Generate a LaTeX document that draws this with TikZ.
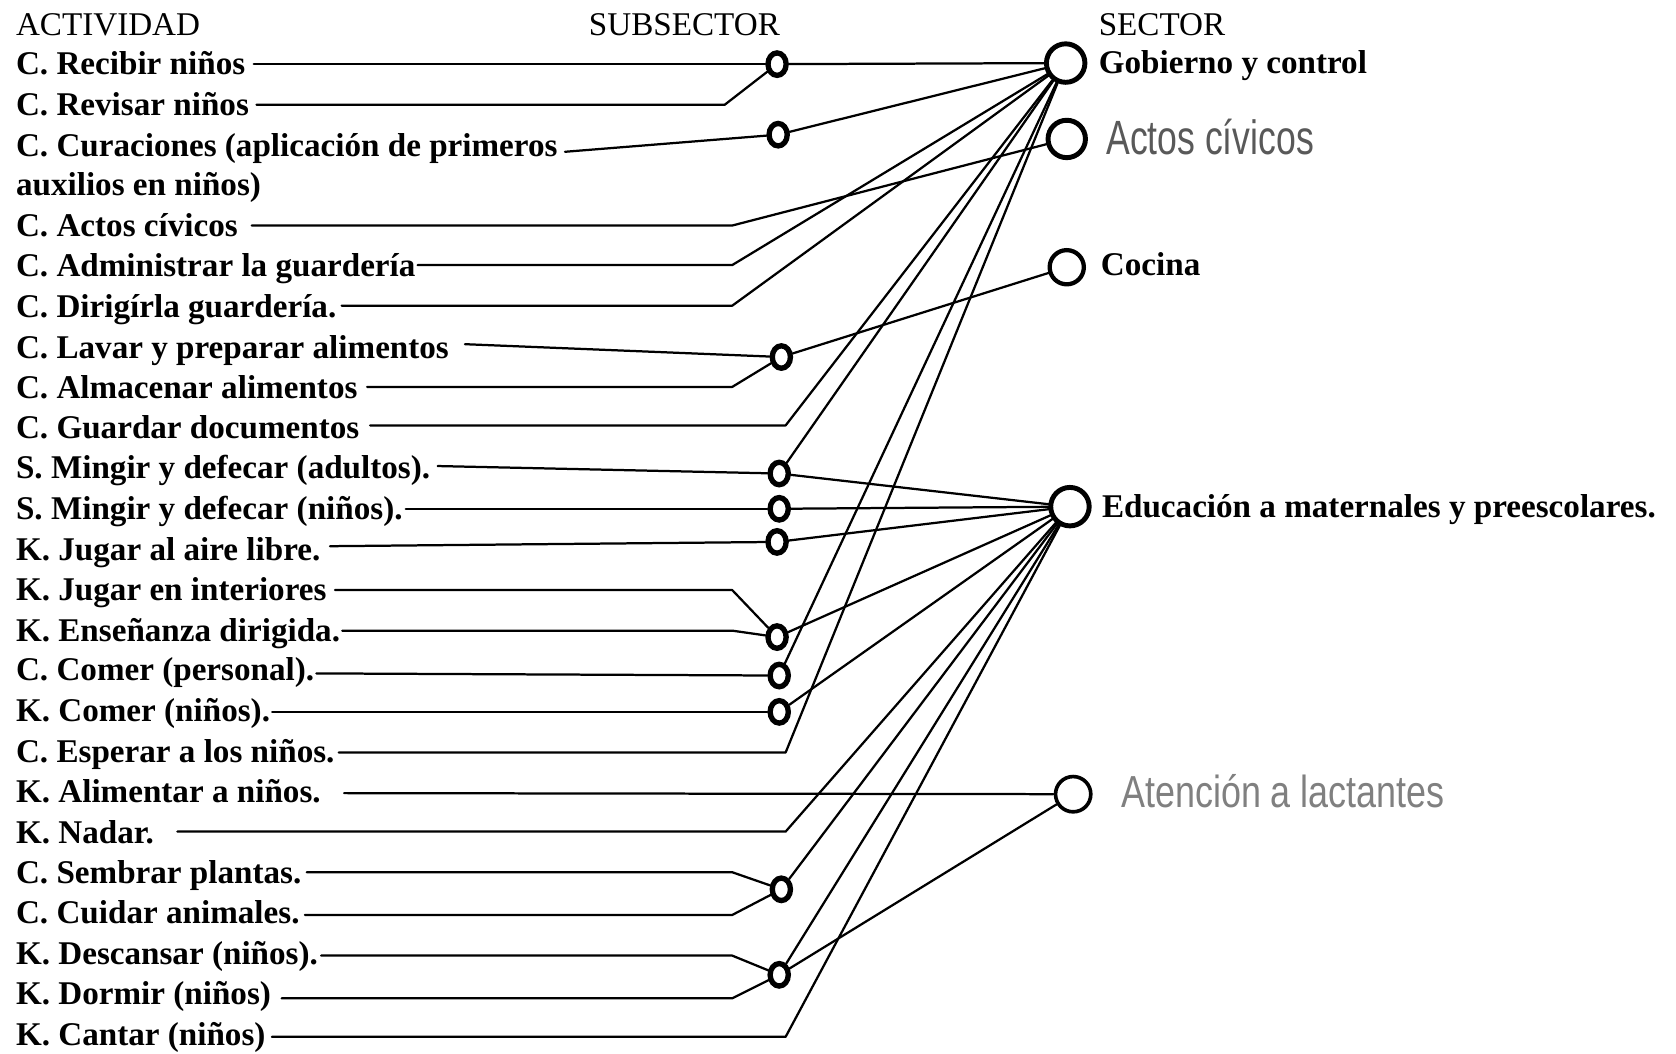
\documentclass[tikz,border=0pt]{standalone}
\usepackage{fontspec}
\setmainfont{Liberation Serif}
\newfontfamily\fadedfont{Liberation Sans}
\usetikzlibrary{shapes.geometric}
\begin{document}
\begin{tikzpicture}[x=1pt,y=-1pt,
  every node/.style={inner sep=0pt, outer sep=0pt},
  head/.style={anchor=base west, font=\fontsize{31}{37}\selectfont},
  act/.style={anchor=base west, font=\fontsize{31}{37}\selectfont\bfseries},
  seclabel/.style={anchor=base west, font=\fontsize{31}{37}\selectfont\bfseries},
  faded/.style={anchor=base west, text=black!#1},
  sub/.style={draw, ellipse, line width=5pt, minimum width=17pt, minimum height=21pt, outer sep=2.5pt},
  hub/.style={draw, circle, line width=4.6pt, minimum size=#1, outer sep=2pt},
  wire/.style={line width=2.1pt, line cap=round, line join=round},
]
\useasboundingbox (0,0) rectangle (1568,986);
\fill[white] (0,0) rectangle (1568,986);

% column headings
\node[head] (hAct) at (15,33) {ACTIVIDAD};
\node[head] (hSub) at (551,33) {SUBSECTOR};
\node[head] (hSec) at (1028,33) {SECTOR};

% activities
\node[act] (r1)  at (15,70)  {C. Recibir niños};
\node[act] (r2)  at (15,108) {C. Revisar niños};
\node[act] (r3)  at (15,146) {C. Curaciones (aplicación de primeros};
\node[act] (r4)  at (15,183) {auxilios en niños)};
\node[act] (r5)  at (15,221) {C. Actos cívicos};
\node[act] (r6)  at (15,259) {C. Administrar la guardería};
\node[act] (r7)  at (15,297) {C. Dirigírla guardería.};
\node[act] (r8)  at (15,335) {C. Lavar y preparar alimentos};
\node[act] (r9)  at (15,373) {C. Almacenar alimentos};
\node[act] (r10) at (15,410) {C. Guardar documentos};
\node[act] (r11) at (15,448) {S. Mingir y defecar (adultos).};
\node[act] (r12) at (15,486) {S. Mingir y defecar (niños).};
\node[act] (r13) at (15,524) {K. Jugar al aire libre.};
\node[act] (r14) at (15,562) {K. Jugar en interiores};
\node[act] (r15) at (15,600) {K. Enseñanza dirigida.};
\node[act] (r16) at (15,637) {C. Comer (personal).};
\node[act] (r17) at (15,675) {K. Comer (niños).};
\node[act] (r18) at (15,713) {C. Esperar a los niños.};
\node[act] (r19) at (15,751) {K. Alimentar a niños.};
\node[act] (r20) at (15,789) {K. Nadar.};
\node[act] (r21) at (15,827) {C. Sembrar plantas.};
\node[act] (r22) at (15,864) {C. Cuidar animales.};
\node[act] (r23) at (15,902) {K. Descansar (niños).};
\node[act] (r24) at (15,940) {K. Dormir (niños)};
\node[act] (r25) at (15,978) {K. Cantar (niños)};

% subsectors
\node[sub] (S1)  at (727,60)  {};
\node[sub] (S2)  at (728,126) {};
\node[sub] (S3)  at (731,334) {};
\node[sub] (S4)  at (729,443) {};
\node[sub] (S5)  at (729,476) {};
\node[sub] (S6)  at (727,507) {};
\node[sub] (S7)  at (727,596) {};
\node[sub] (S8)  at (729,632) {};
\node[sub] (S9)  at (729,666) {};
\node[sub] (S10) at (731,832) {};
\node[sub] (S11) at (729,912) {};

% sectors
\node[hub=36pt] (G)  at (997,59)  {};
\node[hub=35pt] (A)  at (998,130) {};
\node[hub=32pt, line width=4pt] (Co) at (998,250) {};
\node[hub=36pt] (E)  at (1001,474) {};
\node[hub=33pt, line width=3.4pt] (At) at (1004,743) {};

\node[seclabel] (lG)  at (1028,69)  {Gobierno y control};
\node[faded=65, font=\fadedfont\fontsize{45}{45}\selectfont, xscale=0.74] (lA) at (1035,145) {Actos cívicos};
\node[seclabel] (lCo) at (1030,258) {Cocina};
\node[seclabel] (lE)  at (1031,484) {Educación a maternales y preescolares.};
\node[faded=50, font=\fadedfont\fontsize{42}{42}\selectfont, xscale=0.8] (lAt) at (1049,755) {Atención a lactantes};

% bends of the activity lines
\coordinate (b2)  at (678,98);
\coordinate (b5)  at (685,211);
\coordinate (b6)  at (685,248);
\coordinate (b7)  at (685,286);
\coordinate (b9)  at (685,362);
\coordinate (b10) at (735,398);
\coordinate (b14) at (685,552);
\coordinate (b15) at (685,590);
\coordinate (b18) at (735,704);
\coordinate (b20) at (735,778);
\coordinate (b21) at (685,816);
\coordinate (b22) at (685,856);
\coordinate (b23) at (685,894);
\coordinate (b24) at (685,934);
\coordinate (b25) at (735,970);

% activity -> subsector / sector
\draw[wire] ([xshift=8pt,yshift=10pt]r1.base east) -- (S1);
\draw[wire] ([xshift=7pt,yshift=10pt]r2.base east) -- (b2) -- (S1);
\draw[wire] ([xshift=7pt,yshift=4pt]r3.base east) -- (S2);
\draw[wire] ([xshift=13pt,yshift=10pt]r5.base east) -- (b5) -- (A);
\draw[wire] ([xshift=2pt,yshift=11pt]r6.base east) -- (b6) -- (G);
\draw[wire] ([xshift=5pt,yshift=11pt]r7.base east) -- (b7) -- (G);
\draw[wire] ([xshift=15pt,yshift=13pt]r8.base east) -- (S3);
\draw[wire] ([xshift=9pt,yshift=11pt]r9.base east) -- (b9) -- (S3);
\draw[wire] ([xshift=10pt,yshift=12pt]r10.base east) -- (b10) -- (G);
\draw[wire] ([xshift=7pt,yshift=12pt]r11.base east) -- (S4);
\draw[wire] ([xshift=3pt,yshift=10pt]r12.base east) -- (S5);
\draw[wire] ([xshift=9pt,yshift=13pt]r13.base east) -- (S6);
\draw[wire] ([xshift=8pt,yshift=10pt]r14.base east) -- (b14) -- (S7);
\draw[wire] ([xshift=2pt,yshift=10pt]r15.base east) -- (b15) -- (S7);
\draw[wire] ([xshift=2pt,yshift=7pt]r16.base east) -- (S8);
\draw[wire] ([xshift=2pt,yshift=9pt]r17.base east) -- (S9);
\draw[wire] ([xshift=4pt,yshift=9pt]r18.base east) -- (b18) -- (G);
\draw[wire] ([xshift=22pt,yshift=9pt]r19.base east) -- (At);
\draw[wire] ([xshift=22pt,yshift=11pt]r20.base east) -- (b20) -- (E);
\draw[wire] ([xshift=5pt,yshift=11pt]r21.base east) -- (b21) -- (S10);
\draw[wire] ([xshift=5pt,yshift=8pt]r22.base east) -- (b22) -- (S10);
\draw[wire] ([xshift=3pt,yshift=8pt]r23.base east) -- (b23) -- (S11);
\draw[wire] ([xshift=10pt,yshift=6pt]r24.base east) -- (b24) -- (S11);
\draw[wire] ([xshift=6pt,yshift=8pt]r25.base east) -- (b25) -- (E);

% subsector -> sector
\draw[wire] (S1) -- (G);
\draw[wire] (S2) -- (G);
\draw[wire] (S3) -- (Co);
\draw[wire] (S4) -- (G);
\draw[wire] (S4) -- (E);
\draw[wire] (S5) -- (E);
\draw[wire] (S6) -- (E);
\draw[wire] (S7) -- (E);
\draw[wire] (S8) -- (G);
\draw[wire] (S9) -- (E);
\draw[wire] (S10) -- (E);
\draw[wire] (S11) -- (E);
\draw[wire] (S11) -- (At);
\end{tikzpicture}
\end{document}
